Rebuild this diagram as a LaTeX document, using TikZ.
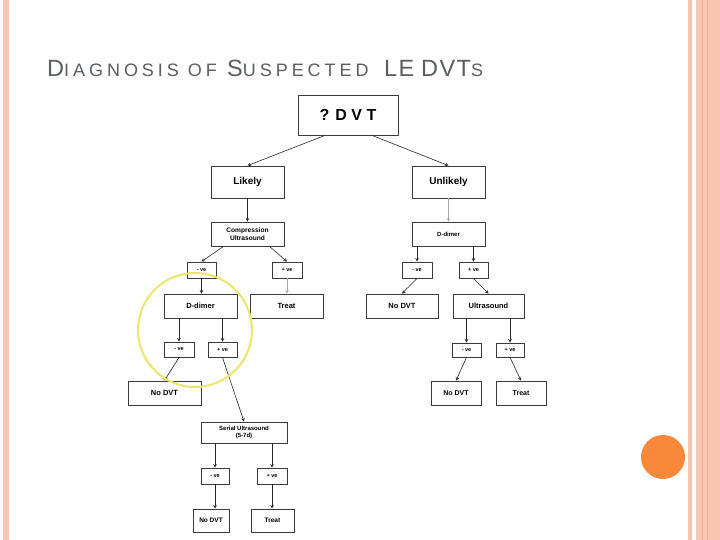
\documentclass[tikz,border=0pt]{standalone}
\usepackage{fontspec}
\setmainfont{Liberation Sans}
\usepackage{tikz}
\usetikzlibrary{arrows,calc}
\definecolor{salmon}{HTML}{F8C6B2}
\definecolor{salmondark}{HTML}{F2AE92}
\definecolor{dotorange}{HTML}{F8883A}
\definecolor{titlegray}{HTML}{595E63}
\definecolor{ringyellow}{HTML}{EEE46A}
\definecolor{boxline}{HTML}{3A3A3A}
\newcommand{\capbig}[1]{{\fontsize{23.5pt}{23.5pt}\selectfont\addfontfeatures{LetterSpace=6}#1}}
\newcommand{\capsmall}[1]{{\fontsize{18pt}{18pt}\selectfont\addfontfeatures{LetterSpace=22}#1}}
\begin{document}
\begin{tikzpicture}[x=1pt,y=-1pt]
\tikzstyle{box} = [draw=boxline, line width=0.8pt, rectangle, inner sep=0pt, align=center, font=\bfseries]
\tikzstyle{link} = [->, >=stealth, line width=0.6pt, draw=black!85]
\tikzstyle{faint} = [->, >=stealth, line width=0.6pt, draw=black!35]
\useasboundingbox (0,0) rectangle (720,540);
\fill[white] (0,0) rectangle (720,540);
\fill[salmon] (3,0) rectangle (9,540);
\fill[salmon] (688,0) rectangle (692,540);
\fill[salmon] (696,0) rectangle (720,540);
\draw[salmondark, line width=1pt] (702,0) -- (702,540);
\draw[salmondark, line width=0.6pt] (707,0) -- (707,540);
\fill[dotorange] (663,457) circle (22);
\node[anchor=base west, text=titlegray, inner sep=0pt] (title) at (47,77)
  {\makebox[180pt][l]{\capbig{D}\capsmall{IAGNOSIS OF}}%
   \makebox[157pt][l]{\capbig{S}\capsmall{USPECTED}}%
   \makebox[37pt][l]{\capbig{LE}}%
   \capbig{DVT}\capsmall{S}};
\node[box, minimum width=100pt, minimum height=40pt, font=\bfseries\fontsize{16pt}{16pt}\selectfont] (dvt) at (348,115) {? D V T};
\node[box, minimum width=73pt, minimum height=32pt, font=\bfseries\fontsize{10pt}{10pt}\selectfont] (likely) at (247.5,182) {Likely};
\node[box, minimum width=73pt, minimum height=32pt, font=\bfseries\fontsize{10pt}{10pt}\selectfont] (unlikely) at (448.5,182) {Unlikely};
\node[box, minimum width=73pt, minimum height=24pt, font=\bfseries\fontsize{6.6pt}{8pt}\selectfont] (cus) at (247.5,234) {Compression\\Ultrasound};
\node[box, minimum width=73pt, minimum height=24pt, font=\bfseries\fontsize{6pt}{7pt}\selectfont] (ddright) at (448.5,234) {D-dimer};
\node[box, minimum width=29pt, minimum height=16pt, font=\bfseries\fontsize{5.5pt}{6pt}\selectfont] (lneg) at (201.5,270) {- ve};
\node[box, minimum width=30pt, minimum height=16pt, font=\bfseries\fontsize{5.5pt}{6pt}\selectfont] (lpos) at (287,270) {+ ve};
\node[box, minimum width=73pt, minimum height=24pt, font=\bfseries\fontsize{7.5pt}{8pt}\selectfont] (ddleft) at (200.5,306) {D-dimer};
\node[box, minimum width=73pt, minimum height=24pt, font=\bfseries\fontsize{7.5pt}{8pt}\selectfont] (ltreat) at (286.5,306) {Treat};
\node[box, minimum width=30pt, minimum height=15pt, font=\bfseries\fontsize{5.5pt}{6pt}\selectfont] (ineg) at (179,349.5) {- ve};
\node[box, minimum width=29pt, minimum height=15pt, font=\bfseries\fontsize{5.5pt}{6pt}\selectfont] (ipos) at (222.5,349.5) {+ ve};
\node[box, minimum width=73pt, minimum height=24pt, font=\bfseries\fontsize{7.5pt}{8pt}\selectfont] (lnodvt) at (164.5,393) {No DVT};
\node[box, minimum width=86pt, minimum height=21pt, font=\bfseries\fontsize{6pt}{7.5pt}\selectfont] (serial) at (244,432.5) {Serial Ultrasound\\(5-7d)};
\node[box, minimum width=28pt, minimum height=16pt, font=\bfseries\fontsize{5.5pt}{6pt}\selectfont] (sneg) at (215,476) {- ve};
\node[box, minimum width=30pt, minimum height=16pt, font=\bfseries\fontsize{5.5pt}{6pt}\selectfont] (spos) at (272,476) {+ ve};
\node[box, minimum width=36pt, minimum height=23pt, font=\bfseries\fontsize{6.5pt}{7pt}\selectfont] (snodvt) at (211,520.5) {No DVT};
\node[box, minimum width=43pt, minimum height=23pt, font=\bfseries\fontsize{6.5pt}{7pt}\selectfont] (streat) at (272.5,520.5) {Treat};
\node[box, minimum width=30pt, minimum height=16pt, font=\bfseries\fontsize{5.5pt}{6pt}\selectfont] (rneg) at (417,270) {- ve};
\node[box, minimum width=29pt, minimum height=16pt, font=\bfseries\fontsize{5.5pt}{6pt}\selectfont] (rpos) at (473.5,270) {+ ve};
\node[box, minimum width=72pt, minimum height=24pt, font=\bfseries\fontsize{7.5pt}{8pt}\selectfont] (rnodvt) at (402,306) {No DVT};
\node[box, minimum width=71pt, minimum height=24pt, font=\bfseries\fontsize{7.5pt}{8pt}\selectfont] (ultra) at (488.5,306) {Ultrasound};
\node[box, minimum width=29pt, minimum height=14pt, font=\bfseries\fontsize{5.5pt}{6pt}\selectfont] (uneg) at (466.5,350) {- ve};
\node[box, minimum width=28pt, minimum height=14pt, font=\bfseries\fontsize{5.5pt}{6pt}\selectfont] (upos) at (510,350) {+ ve};
\node[box, minimum width=50pt, minimum height=24pt, font=\bfseries\fontsize{7pt}{8pt}\selectfont] (rnodvtb) at (456,393) {No DVT};
\node[box, minimum width=50pt, minimum height=24pt, font=\bfseries\fontsize{7pt}{8pt}\selectfont] (rtreat) at (521,393) {Treat};
\draw[link] ($(dvt.south)+(-23,0)$) -- (likely.north);
\draw[link] ($(dvt.south)+(24,0)$) -- (unlikely.north);
\draw[link] (likely.south) -- (cus.north);
\draw[faint] (unlikely.south) -- (ddright.north);
\draw[link] ($(cus.south)+(-24,0)$) -- (lneg.north);
\draw[link] ($(cus.south)+(22,0)$) -- (lpos.north);
\draw[link] (lneg.south) -- (lneg.south |- ddleft.north);
\draw[faint] (lpos.south) -- (lpos.south |- ltreat.north);
\draw[link] (ineg.north |- ddleft.south) -- (ineg.north);
\draw[link] (ipos.north |- ddleft.south) -- (ipos.north);
\draw[link] (ineg.south) -- (lnodvt.north);
\draw[link] (ipos.south) -- (serial.north);
\draw[link] (sneg.north |- serial.south) -- (sneg.north);
\draw[link] (spos.north |- serial.south) -- (spos.north);
\draw[link] (sneg.south) -- (sneg.south |- snodvt.north);
\draw[link] (spos.south) -- (spos.south |- streat.north);
\draw[link] (rneg.north |- ddright.south) -- (rneg.north);
\draw[link] (rpos.north |- ddright.south) -- (rpos.north);
\draw[link] (rneg.south) -- (rnodvt.north);
\draw[link] (rpos.south) -- (ultra.north);
\draw[link] (uneg.north |- ultra.south) -- (uneg.north);
\draw[link] (upos.north |- ultra.south) -- (upos.north);
\draw[link] (uneg.south) -- (rnodvtb.north);
\draw[link] (upos.south) -- (rtreat.north);
\draw[ringyellow, line width=2pt] (195,330) circle (57);
\end{tikzpicture}
\end{document}
